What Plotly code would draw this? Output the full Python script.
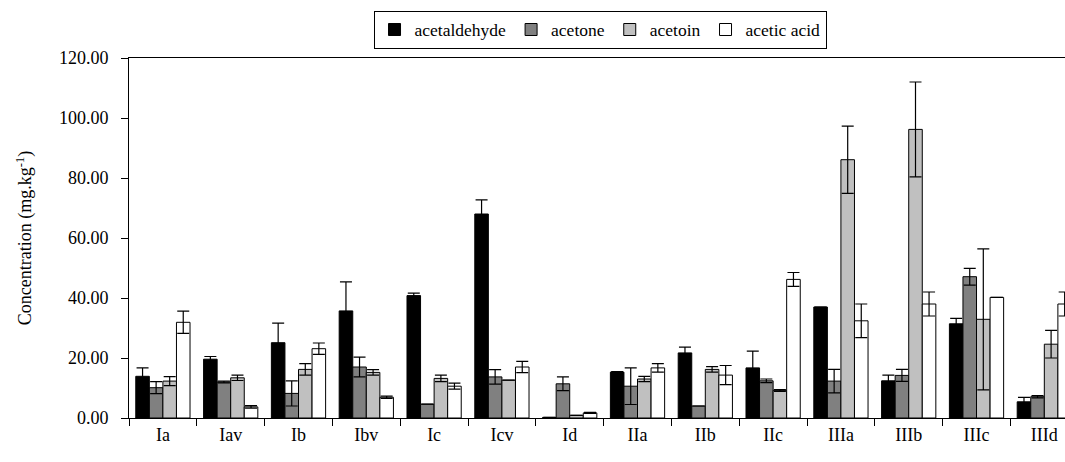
import plotly.graph_objects as go

categories = ["Ia", "Iav", "Ib", "Ibv", "Ic", "Icv", "Id", "IIa", "IIb", "IIc",
              "IIIa", "IIIb", "IIIc", "IIId"]

acetaldehyde = [13.9, 19.6, 25.1, 35.7, 40.8, 68.0, 0.2, 15.3, 21.7, 16.7, 37.0, 12.4, 31.4, 5.4]
acetaldehyde_err = [2.8, 0.9, 6.5, 9.7, 0.8, 4.7, 0.0, 0.2, 1.9, 5.6, 0.0, 1.9, 1.8, 1.5]

acetone = [10.1, 12.0, 8.2, 17.0, 4.6, 13.7, 11.4, 10.6, 4.0, 12.4, 12.3, 14.2, 47.1, 7.1]
acetone_err = [2.0, 0.3, 4.2, 3.3, 0.0, 2.4, 2.3, 6.1, 0.0, 0.6, 3.9, 2.0, 2.8, 0.4]

acetoin = [12.3, 13.4, 16.2, 15.2, 13.2, 12.6, 0.9, 13.0, 16.2, 9.2, 86.1, 96.2, 32.9, 24.6]
acetoin_err = [1.5, 0.9, 1.9, 0.9, 1.1, 0.0, 0.0, 0.9, 0.9, 0.3, 11.2, 15.8, 23.5, 4.6]

acetic_acid = [31.9, 3.7, 23.1, 6.9, 10.6, 17.0, 1.7, 16.7, 14.3, 46.2, 32.4, 38.0, 40.2, 38.0]
acetic_acid_err = [3.7, 0.4, 1.9, 0.4, 1.0, 1.9, 0.2, 1.4, 3.2, 2.3, 5.6, 4.0, 0.0, 4.0]

series = [
    ("acetaldehyde", acetaldehyde, acetaldehyde_err, "#000000"),
    ("acetone", acetone, acetone_err, "#808080"),
    ("acetoin", acetoin, acetoin_err, "#C0C0C0"),
    ("acetic acid", acetic_acid, acetic_acid_err, "#FFFFFF"),
]

FONT = "Liberation Serif"

fig = go.Figure()
for name, vals, errs, color in series:
    fig.add_trace(go.Bar(
        name=name, x=categories, y=vals,
        marker=dict(color=color, line=dict(color="#000000", width=1)),
        error_y=dict(type="data", array=errs, visible=True,
                     color="#000000", thickness=1.2, width=6),
    ))

fig.update_layout(
    width=1065, height=462,
    barmode="group", bargap=0.2, bargroupgap=0,
    plot_bgcolor="white", paper_bgcolor="white",
    margin=dict(l=129, r=0, t=58, b=44),
    font=dict(family=FONT, size=18, color="#000000"),
    showlegend=True,
    legend=dict(
        orientation="h", xref="container", yref="container",
        x=0.5634, xanchor="center", y=0.977, yanchor="top",
        bordercolor="#000000", borderwidth=1,
        font=dict(family=FONT, size=17.5, color="#000000"),
        itemwidth=30, tracegroupgap=0,
    ),
    xaxis=dict(
        type="category",
        range=[-0.5, 13.305],
        showline=True, linecolor="#000000", linewidth=1, mirror=True,
        ticks="outside", tickson="boundaries", ticklen=7, tickcolor="#000000",
        showgrid=False, zeroline=False,
        tickfont=dict(family=FONT, size=18, color="#000000"),
    ),
    yaxis=dict(
        range=[0, 120], dtick=20, tick0=0, tickformat=".2f",
        showline=True, linecolor="#000000", linewidth=1,
        ticks="outside", ticklen=7, tickcolor="#000000",
        ticklabelstandoff=9,
        showgrid=False, zeroline=False,
        tickfont=dict(family=FONT, size=18, color="#000000"),
        title=dict(text="Concentration (mg.kg<sup>-1</sup>)",
                   font=dict(family=FONT, size=18, color="#000000"),
                   standoff=22),
    ),
)

fig.write_html(
    "out.html",
    config={"displayModeBar": False},
    post_script="document.body.style.margin='0';document.body.style.overflow='hidden';",
)
